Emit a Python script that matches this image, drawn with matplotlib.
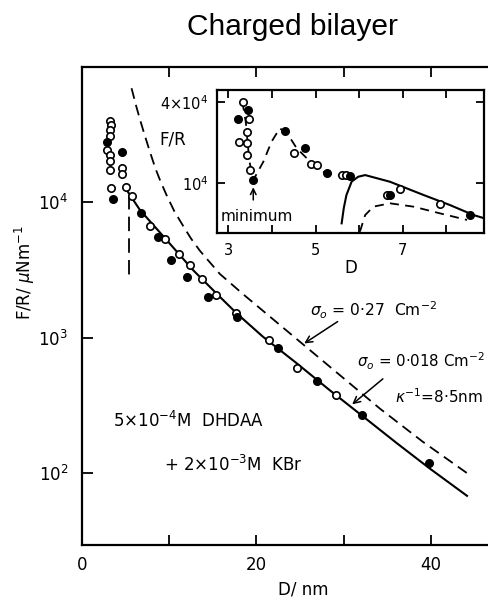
import matplotlib
matplotlib.use("Agg")
import matplotlib.pyplot as plt
from matplotlib.ticker import FixedLocator, FixedFormatter, NullLocator

plt.rcParams["font.family"] = ["DejaVu Sans"]
plt.rcParams["mathtext.fontset"] = "dejavusans"

# ---- main panel: force/radius vs separation ----
open_d = [3.21, 3.28, 3.21, 3.21, 2.83, 3.21, 3.21, 3.21, 3.33, 4.54, 4.54,
          5.04, 5.68, 7.76, 9.55, 11.13, 12.42, 13.71, 15.39, 17.67, 21.44,
          24.61, 29.07]
open_f = [39600, 37000, 34000, 30700, 24200, 22200, 20100, 17200, 12700,
          17700, 16000, 12800, 11100, 6650, 5300, 4110, 3430, 2690, 2060,
          1520, 960, 595, 377]

filled_d = [2.83, 3.59, 4.58, 6.77, 8.75, 10.24, 12.07, 14.45, 17.72, 22.43,
            26.99, 32.04, 39.77]
filled_f = [27700, 10500, 23400, 8250, 5540, 3730, 2780, 2000, 1420, 831,
            478, 268, 119]

# theory, sigma0 = 0.018 C m^-2
low_d = [5.12, 6.64, 9.70, 12.72, 15.79, 17.72, 20.74, 24.61, 28.37, 32.24,
         36.10, 39.87, 44.13]
low_f = [12260, 8730, 5240, 3150, 2000, 1510, 1014, 646, 410, 261, 166,
         108, 68]

# theory, sigma0 = 0.27 C m^-2
high_d = [5.68, 6.20, 6.64, 7.20, 7.79, 8.40, 8.94, 9.70, 10.60, 11.63,
          12.50, 13.51, 15.79, 18.46, 25.20, 29.56, 34.12, 39.08, 44.13]
high_f = [69000, 51300, 40700, 30900, 23400, 17800, 14500, 11200, 8500,
          6600, 5370, 4370, 2950, 2090, 906, 528, 300, 170, 100]

jump_d = [5.42, 5.42]
jump_f = [11270, 2810]

# ---- inset: short-range region ----
in_open_d = [3.34, 3.48, 3.43, 3.25, 3.43, 3.42, 3.49, 4.51, 4.90, 5.03,
             5.60, 5.70, 6.64, 6.93, 7.85]
in_open_f = [39600, 29600, 23900, 19960, 19600, 16100, 12400, 16500, 13700,
             13500, 11500, 11400, 8150, 8930, 6910]
in_filled_d = [3.46, 3.23, 3.57, 4.30, 4.76, 5.26, 5.80, 6.72, 8.55]
in_filled_f = [34700, 29600, 10470, 24400, 18000, 11900, 11300, 8150, 5750]

in_osc_d = [3.32, 3.40, 3.44, 3.48, 3.57, 3.80, 3.99, 4.18, 4.37, 4.57,
            4.80, 5.03, 5.26, 5.56, 5.75]
in_osc_f = [40000, 28000, 20000, 14500, 10470, 14300, 20200, 25400, 22700,
            18000, 15200, 12800, 11700, 11400, 11300]

in_solid_d = [5.60, 5.65, 5.71, 5.83, 5.98, 6.14, 6.71, 7.48, 8.09, 8.63, 8.87]
in_solid_f = [4990, 6500, 8100, 10200, 11080, 11400, 10170, 8110, 6820,
              5750, 5450]

in_dash_d = [6.02, 6.14, 6.33, 6.71, 7.25, 7.86, 8.48]
in_dash_f = [4330, 5750, 6640, 7030, 6640, 5920, 5290]

W, H = 489, 599
fig = plt.figure(figsize=(W / 100, H / 100), dpi=100)

ax = fig.add_axes([82 / W, 1 - 545 / H, (W - 82) / W, (545 - 67) / H])
ax.set_yscale("log")
ax.set_xlim(0, 46.65)
ax.set_ylim(29.5, 99000)
for s in ["left", "bottom", "top"]:
    ax.spines[s].set_linewidth(1.6)
ax.spines["right"].set_visible(False)

ax.xaxis.set_major_locator(FixedLocator([0, 10, 20, 30, 40]))
ax.xaxis.set_major_formatter(FixedFormatter(["0", "", "20", "", "40"]))
ax.xaxis.set_minor_locator(NullLocator())
ax.yaxis.set_major_locator(FixedLocator([1e2, 1e3, 1e4]))
ax.yaxis.set_major_formatter(FixedFormatter([r"$10^2$", r"$10^3$", r"$10^4$"]))
ax.yaxis.set_minor_locator(NullLocator())
ax.tick_params(axis="x", direction="in", top=True, length=7, width=1.3,
               labelsize=12, pad=8)
ax.tick_params(axis="y", direction="in", right=False, length=8, width=1.3,
               labelsize=12, pad=10)

mk = dict(ms=5.3, mew=1.2, ls="none", mec="black")
ax.plot(low_d, low_f, color="black", lw=1.5)
ax.plot(high_d, high_f, color="black", lw=1.3, dashes=(6, 3.5))
ax.plot(jump_d, jump_f, color="black", lw=1.3, dashes=(8, 4))
ax.plot(open_d, open_f, marker="o", mfc="white", **mk)
ax.plot(filled_d, filled_f, marker="o", mfc="black", **mk)

ax.set_xlabel("D/ nm", fontsize=12)
ax.xaxis.set_label_coords((303 - 82) / (W - 82), -0.074)
ax.set_ylabel(r"F/R/ $\mu$Nm$^{-1}$", fontsize=12)
ax.yaxis.set_label_coords((37 - 82) / (W - 82), (545 - 273) / (545 - 67))

ax.text(3.6, 10 ** (4 - (421 - 202) / 135.5),
        r"5×10$^{-4}$M  DHDAA", fontsize=12, va="center")
ax.text(9.4, 10 ** (4 - (465 - 202) / 135.5),
        r"+ 2×10$^{-3}$M  KBr", fontsize=12, va="center")
ax.text(26.1, 10 ** (4 - (310 - 202) / 135.5),
        r"$\sigma_o$ = 0·27  Cm$^{-2}$", fontsize=11.2, va="center")
ax.text(31.5, 10 ** (4 - (361 - 202) / 135.5),
        r"$\sigma_o$ = 0·018 Cm$^{-2}$", fontsize=10.8, va="center")
ax.text(35.9, 10 ** (4 - (397 - 202) / 135.5),
        r"$\kappa^{-1}$=8·5nm", fontsize=11, va="center")
ax.text(8.9, 10 ** (4 - (140 - 202) / 135.5), "F/R", fontsize=12,
        va="center")

arrow = dict(arrowstyle="->", color="black", lw=1.1, mutation_scale=12)
ax.annotate("", xy=(25.2, 881), xytext=(29.57, 1346), arrowprops=arrow)
ax.annotate("", xy=(30.72, 312), xytext=(34.73, 511), arrowprops=arrow)

fig.text(292 / W, 1 - 35 / H, "Charged bilayer", fontsize=21.5,
         family="Liberation Sans", ha="center", va="baseline")

# ---- inset ----
ins = fig.add_axes([216.7 / W, 1 - 233 / H, (484 - 216.7) / W,
                    (233 - 90) / H])
ins.set_facecolor("white")
ins.set_yscale("log")
ins.set_xlim(2.73, 8.87)
ins.set_ylim(4230, 48900)
for s in ins.spines.values():
    s.set_linewidth(1.6)
ins.xaxis.set_major_locator(FixedLocator([3, 4, 5, 6, 7, 8]))
ins.xaxis.set_major_formatter(FixedFormatter(["3", "", "5", "", "7", ""]))
ins.xaxis.set_minor_locator(NullLocator())
ins.yaxis.set_major_locator(FixedLocator([1e4, 4e4]))
ins.yaxis.set_major_formatter(FixedFormatter([r"$10^4$", r"4×10$^4$"]))
ins.yaxis.set_minor_locator(NullLocator())
ins.tick_params(axis="both", direction="in", top=True, right=True, length=6,
                width=1.3, labelsize=10.5)
ins.tick_params(axis="x", pad=7)
ins.tick_params(axis="y", pad=6)
ins.set_xlabel("D", fontsize=12, labelpad=1)

ins.plot(in_osc_d, in_osc_f, color="black", lw=1.3, dashes=(5, 3.5))
ins.plot(in_solid_d, in_solid_f, color="black", lw=1.5)
ins.plot(in_dash_d, in_dash_f, color="black", lw=1.3, dashes=(5, 3.5))
ins.plot(in_open_d, in_open_f, marker="o", mfc="white", **mk)
ins.plot(in_filled_d, in_filled_f, marker="o", mfc="black", **mk)

ins.text(2.81, 5650, "minimum", fontsize=11, va="center")
ins.annotate("", xy=(3.57, 9700), xytext=(3.57, 7100),
             arrowprops=dict(arrowstyle="->", color="black", lw=1.1,
                             mutation_scale=10))

fig.savefig("out.png", dpi=100)
